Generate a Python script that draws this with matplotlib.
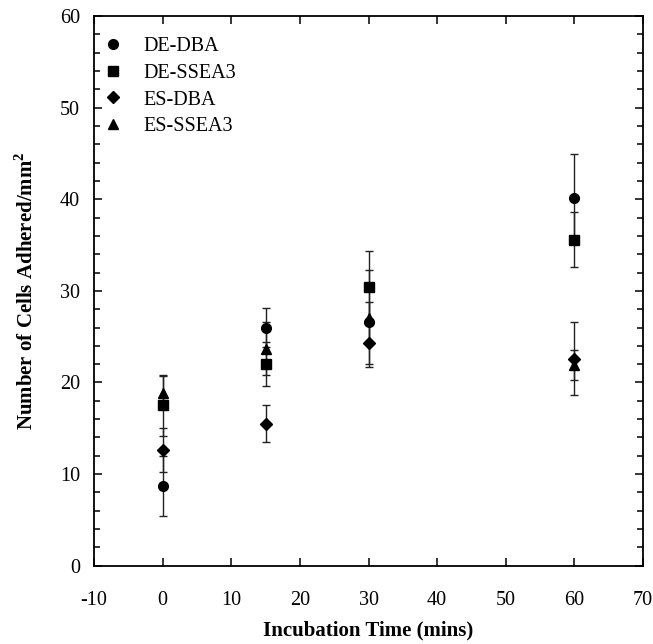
import numpy as np
import matplotlib
matplotlib.use('Agg')
import matplotlib.pyplot as plt
from matplotlib.ticker import MultipleLocator
from matplotlib.lines import Line2D

plt.rcParams['font.family'] = ['Liberation Serif', 'DejaVu Serif']
plt.rcParams['mathtext.fontset'] = 'custom'
plt.rcParams['mathtext.rm'] = 'Liberation Serif'
plt.rcParams['mathtext.bf'] = 'Liberation Serif:bold'
plt.rcParams['axes.unicode_minus'] = False

time = [0, 15, 30, 60]

de_dba = [8.7, 26.0, 26.6, 40.1]
de_dba_err = [3.3, 2.1, 2.2, 4.8]
de_ssea3 = [17.5, 22.0, 30.4, 35.6]
de_ssea3_err = [3.3, 2.4, 4.0, 3.0]
es_dba = [12.6, 15.5, 24.3, 22.6]
es_dba_err = [2.4, 2.0, 2.3, 4.0]
es_ssea3 = [18.9, 23.7, 27.0, 21.9]
es_ssea3_err = [1.8, 2.9, 5.3, 1.6]

series = [
    ('DE-DBA', de_dba, de_dba_err, 'o', 7),
    ('DE-SSEA3', de_ssea3, de_ssea3_err, 's', 7),
    ('ES-DBA', es_dba, es_dba_err, 'D', 6.5),
    ('ES-SSEA3', es_ssea3, es_ssea3_err, '^', 7),
]

fig = plt.figure(figsize=(6.53, 6.44), dpi=100)
ax = fig.add_axes([0.144, 0.1216, 0.8407, 0.8535])

handles = []
for name, y, err, m, ms in series:
    ax.errorbar(time, y, yerr=err, fmt=m, color='black', ecolor='#222222',
                elinewidth=1.0, capsize=3, capthick=1.0, markersize=ms)
    handles.append(Line2D([], [], linestyle='none', marker=m, color='black',
                          markersize=ms, label=name))

ax.set_xlim(-10, 70)
ax.set_ylim(0, 60)
ax.xaxis.set_major_locator(MultipleLocator(10))
ax.yaxis.set_major_locator(MultipleLocator(10))
ax.yaxis.set_minor_locator(MultipleLocator(2))
ax.tick_params(which='both', direction='in', top=True, right=True, labelsize=14.5, width=1.1)
ax.tick_params(which='major', length=6)
ax.tick_params(which='minor', length=4)
ax.tick_params(axis='x', which='major', pad=18)
ax.tick_params(axis='y', which='major', pad=10)
for s in ax.spines.values():
    s.set_linewidth(1.3)

ax.set_xlabel('Incubation Time (mins)', fontsize=15, fontweight='bold', labelpad=8)
ax.set_ylabel(r'Number of Cells Adhered/mm$^\mathbf{2}$', fontsize=15, fontweight='bold', labelpad=16)

ax.legend(handles=handles, loc='upper left', frameon=False, fontsize=14.5, handlelength=1.0,
          handletextpad=1.0, labelspacing=0.38, borderaxespad=0, borderpad=0,
          bbox_to_anchor=(0.016, 0.962))

fig.savefig('out.png', dpi=100)
